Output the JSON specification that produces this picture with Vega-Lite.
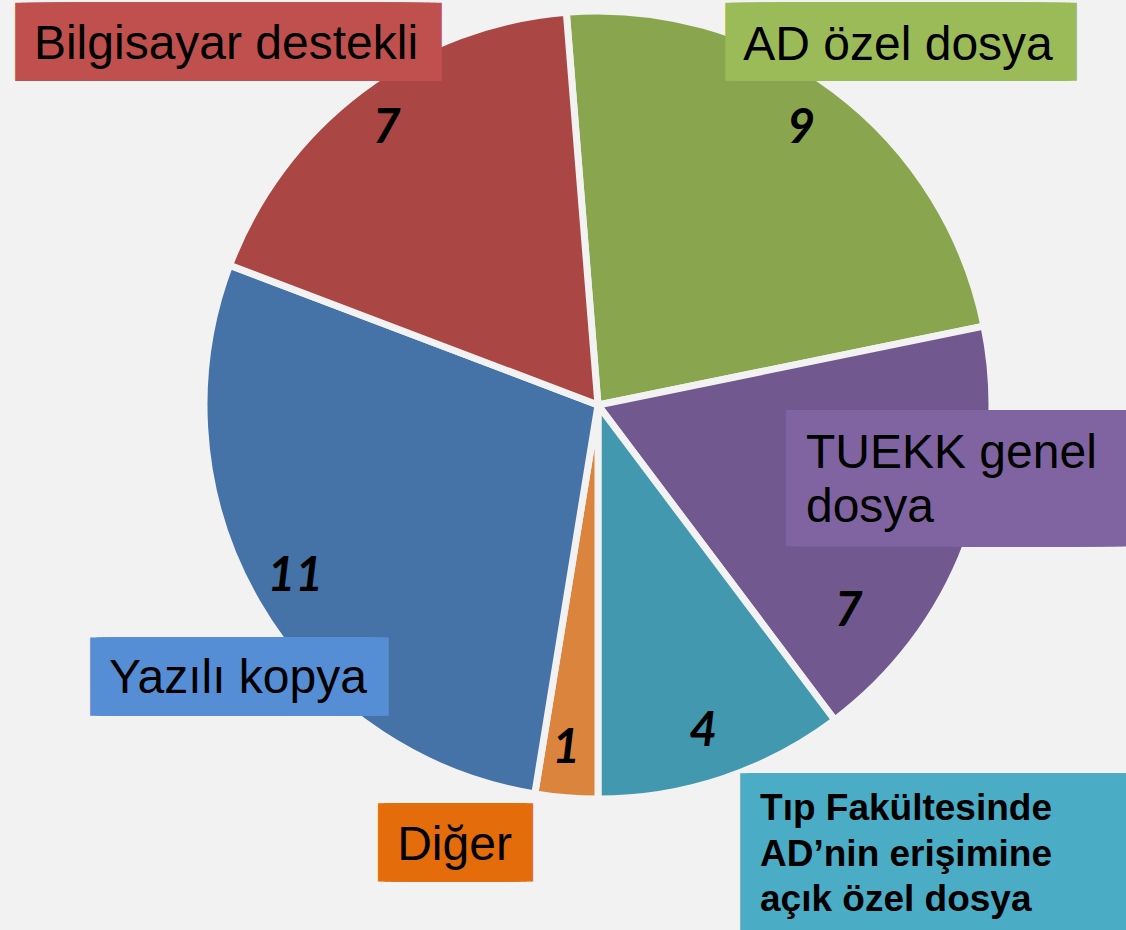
{
  "$schema": "https://vega.github.io/schema/vega-lite/v6.json",
  "width": 1056,
  "height": 810,
  "autosize": {"type": "none"},
  "padding": {"left": 70, "top": 0, "right": 0, "bottom": 120},
  "background": "#f2f2f2",
  "config": {"view": {"stroke": null}},
  "data": {
    "values": [
      {"cat": "AD özel dosya", "value": 9, "idx": 1},
      {"cat": "TUEKK genel dosya", "value": 7, "idx": 2},
      {"cat": "Tıp Fakültesinde AD’nin erişimine açık özel dosya", "value": 4, "idx": 3},
      {"cat": "Diğer", "value": 1, "idx": 4},
      {"cat": "Yazılı kopya", "value": 11, "idx": 5},
      {"cat": "Bilgisayar destekli", "value": 7, "idx": 6}
    ]
  },
  "encoding": {
    "theta": {"field": "value", "type": "quantitative", "stack": true, "scale": {"range": [-0.08055, 6.20264]}},
    "detail": {"field": "cat", "type": "nominal"},
    "order": {"field": "idx", "type": "quantitative"}
  },
  "layer": [
    {
      "mark": {"type": "arc", "outerRadius": 394, "stroke": "#f2f2f2", "strokeWidth": 7},
      "encoding": {
        "color": {
          "field": "cat", "type": "nominal", "legend": null,
          "scale": {
            "domain": ["AD özel dosya", "TUEKK genel dosya", "Tıp Fakültesinde AD’nin erişimine açık özel dosya", "Diğer", "Yazılı kopya", "Bilgisayar destekli"],
            "range": ["#89A54E", "#71588F", "#4198AF", "#DB843D", "#4572A7", "#AA4643"]
          }
        }
      }
    },
    {
      "mark": {"type": "text", "radius": 512, "dx": -62, "dy": 46, "align": "center", "baseline": "middle", "font": "DejaVu Sans Mono", "fontSize": 9.982, "fill": "#C0504D", "stroke": "#C0504D", "strokeWidth": 66.38},
      "encoding": {"text": {"condition": {"test": "datum.cat === 'Bilgisayar destekli'", "value": "████████████████████████████████████████████████████████████"}, "value": ""}}
    },
    {
      "mark": {"type": "text", "radius": 472, "dx": 19.5, "dy": 14.4, "align": "center", "baseline": "middle", "font": "DejaVu Sans Mono", "fontSize": 10.098, "fill": "#9BBB59", "stroke": "#9BBB59", "strokeWidth": 66.25},
      "encoding": {"text": {"condition": {"test": "datum.cat === 'AD özel dosya'", "value": "███████████████████████████████████████████████"}, "value": ""}}
    },
    {
      "mark": {"type": "text", "radius": 365, "dx": 21.2, "dy": -55.4, "align": "center", "baseline": "middle", "font": "DejaVu Sans Mono", "fontSize": 10.384, "fill": "#8064A2", "stroke": "#8064A2", "strokeWidth": 123.9},
      "encoding": {"text": {"condition": {"test": "datum.cat === 'TUEKK genel dosya'", "value": "████████████████████████████████████"}, "value": ""}}
    },
    {
      "mark": {"type": "text", "radius": 446, "dx": 27.7, "dy": 49, "align": "center", "baseline": "middle", "font": "DejaVu Sans Mono", "fontSize": 10.177, "fill": "#558ED5", "stroke": "#558ED5", "strokeWidth": 66.15},
      "encoding": {"text": {"condition": {"test": "datum.cat === 'Yazılı kopya'", "value": "██████████████████████████████████████"}, "value": ""}}
    },
    {
      "mark": {"type": "text", "radius": 448, "dx": -106.4, "dy": -8.6, "align": "center", "baseline": "middle", "font": "DejaVu Sans Mono", "fontSize": 10.6, "fill": "#E46C0A", "stroke": "#E46C0A", "strokeWidth": 65.66},
      "encoding": {"text": {"condition": {"test": "datum.cat === 'Diğer'", "value": "██████████████"}, "value": ""}}
    },
    {
      "mark": {"type": "text", "radius": 536, "dx": 169.8, "dy": -56.4, "align": "center", "baseline": "middle", "font": "DejaVu Sans Mono", "fontSize": 10.545, "fill": "#4BACC6", "stroke": "#4BACC6", "strokeWidth": 153.7},
      "encoding": {"text": {"condition": {"test": "datum.cat === 'Tıp Fakültesinde AD’nin erişimine açık özel dosya'", "value": "██████████████████████████████████████"}, "value": ""}}
    },
    {
      "mark": {"type": "text", "radius": 512, "dx": -64.4, "dy": 63.3, "align": "center", "baseline": "alphabetic", "font": "Liberation Sans", "fontSize": 48, "fill": "#000000"},
      "encoding": {"text": {"condition": {"test": "datum.cat === 'Bilgisayar destekli'", "value": "Bilgisayar destekli"}, "value": ""}}
    },
    {
      "mark": {"type": "text", "radius": 472, "dx": 16.5, "dy": 32.4, "align": "center", "baseline": "alphabetic", "font": "Liberation Sans", "fontSize": 48, "fill": "#000000"},
      "encoding": {"text": {"condition": {"test": "datum.cat === 'AD özel dosya'", "value": "AD özel dosya"}, "value": ""}}
    },
    {
      "mark": {"type": "text", "radius": 365, "dx": -133.3, "dy": -66.4, "align": "left", "baseline": "alphabetic", "font": "Liberation Sans", "fontSize": 48, "lineHeight": 54, "fill": "#000000"},
      "encoding": {"text": {"condition": {"test": "datum.cat === 'TUEKK genel dosya'", "value": ["TUEKK genel", "dosya"]}, "value": ""}}
    },
    {
      "mark": {"type": "text", "radius": 446, "dx": 26.2, "dy": 65, "align": "center", "baseline": "alphabetic", "font": "Liberation Sans", "fontSize": 48, "fill": "#000000"},
      "encoding": {"text": {"condition": {"test": "datum.cat === 'Yazılı kopya'", "value": "Yazılı kopya"}, "value": ""}}
    },
    {
      "mark": {"type": "text", "radius": 448, "dx": -107.4, "dy": 8.4, "align": "center", "baseline": "alphabetic", "font": "Liberation Sans", "fontSize": 48, "fill": "#000000"},
      "encoding": {"text": {"condition": {"test": "datum.cat === 'Diğer'", "value": "Diğer"}, "value": ""}}
    },
    {
      "mark": {"type": "text", "radius": 536, "dx": -7.7, "dy": -93.4, "align": "left", "baseline": "alphabetic", "font": "Liberation Sans", "fontSize": 37, "fontWeight": "bold", "lineHeight": 45.5, "fill": "#000000"},
      "encoding": {"text": {"condition": {"test": "datum.cat === 'Tıp Fakültesinde AD’nin erişimine açık özel dosya'", "value": ["Tıp Fakültesinde", "AD’nin erişimine", "açık özel dosya"]}, "value": ""}}
    },
    {
      "mark": {"type": "text", "radius": 345, "dx": -4, "dy": 0, "align": "center", "baseline": "middle", "font": "Lato", "fontSize": 48, "fontWeight": "bold", "fontStyle": "italic", "fill": "#000000"},
      "encoding": {"text": {"field": "value", "type": "quantitative", "condition": {"test": "datum.cat === 'TUEKK genel dosya'", "value": ""}}}
    },
    {
      "mark": {"type": "text", "radius": 345, "dx": -72, "dy": 85, "align": "center", "baseline": "middle", "font": "Lato", "fontSize": 48, "fontWeight": "bold", "fontStyle": "italic", "fill": "#000000"},
      "encoding": {"text": {"condition": {"test": "datum.cat === 'TUEKK genel dosya'", "field": "value", "type": "quantitative"}, "value": ""}}
    }
  ]
}
